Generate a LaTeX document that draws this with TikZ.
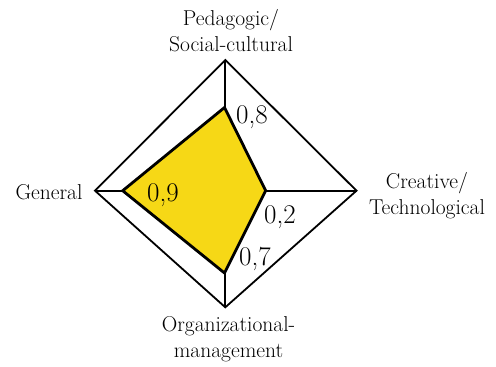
\documentclass[tikz,border=0pt]{standalone}
\usepackage{tikz}
\usetikzlibrary{calc}
\definecolor{val_yellow}{RGB}{246, 216, 22}
\tikzstyle{rim}=[draw=black,line width=1.8pt,line join=miter]
\tikzstyle{val}=[draw=black,fill=val_yellow,line width=2.8pt,line join=miter]
\tikzstyle{axname}=[align=center,inner sep=0pt,
  font=\fontsize{21.5}{26}\selectfont]
\tikzstyle{num}=[inner sep=0pt,font=\fontsize{27}{32}\selectfont]
\tikzstyle{none}=[inner sep=0pt]

\begin{document}
\begin{tikzpicture}[x=1pt, y=-1pt]
            \useasboundingbox (0,0) rectangle (496,367);
            \node [style=none] (top) at (225.3, 60) {};
            \node [style=none] (rgt) at (356.5, 190.7) {};
            \node [style=none] (bot) at (225.3, 307.3) {};
            \node [style=none] (lft) at (95, 190.7) {};
            \node [style=none] (1v) at (224.5, 107.5) {}; % gore
            \node [style=none] (2v) at (265.7, 190.7) {}; % desno
            \node [style=none] (3v) at (224.5, 273) {}; % dolje
            \node [style=none] (4v) at (122.7, 190.7) {}; % lijevo
            \draw [style=rim] (top.center) to (rgt.center) to (bot.center)
                to (lft.center) -- cycle;
            \draw [style=rim] (top.center) to (bot.center);
            \draw [style=rim] (lft.center) to (rgt.center);
            \draw [style=val] (1v.center) -- (2v.center) -- (3v.center)
                -- (4v.center) -- cycle;
            \node [style=axname] (ped) at (231, 31) {Pedagogic/\\Social-cultural};
            \node [style=axname] (cre) at (427, 195.5) {Creative/\\Technological};
            \node [style=axname] (org) at (228.5, 339.5) {Organizational-\\management};
            \node [style=axname] (gen) at (49, 192) {General};
            \node [style=num] (n1) at (252, 117) {0,8};
            \node [style=num] (n2) at (280, 217) {0,2};
            \node [style=num] (n3) at (255, 259) {0,7};
            \node [style=num] (n4) at (163, 195) {0,9};
    \end{tikzpicture}
\end{document}
